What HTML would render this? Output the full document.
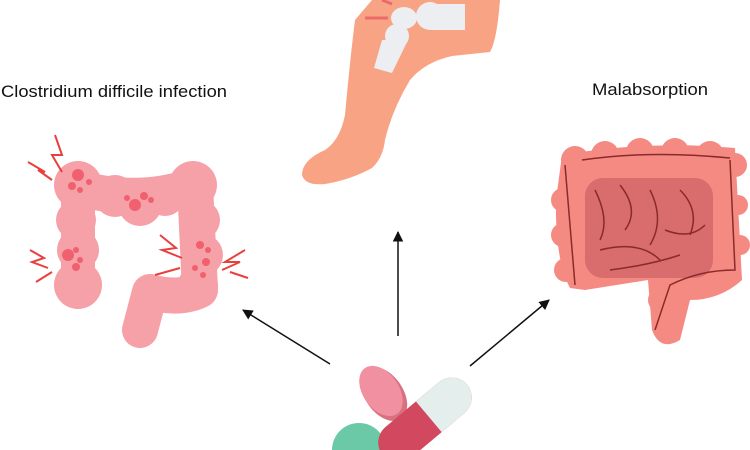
<!DOCTYPE html>
<html><head><meta charset="utf-8"><style>
html,body{margin:0;padding:0;background:#fff;width:750px;height:450px;overflow:hidden}
</style></head><body>
<svg width="750" height="450" viewBox="0 0 750 450" xmlns="http://www.w3.org/2000/svg">
<defs>
<marker id="a" viewBox="0 0 10 10" refX="9" refY="5" markerWidth="7" markerHeight="7" orient="auto"><path d="M0,0 L10,5 L0,10 z" fill="#111"/></marker>
</defs>
<text x="1" y="97" font-family="Liberation Sans, sans-serif" font-size="17" fill="#111" textLength="226" lengthAdjust="spacingAndGlyphs">Clostridium difficile infection</text>
<text x="592" y="95" font-family="Liberation Sans, sans-serif" font-size="17" fill="#111" textLength="116" lengthAdjust="spacingAndGlyphs">Malabsorption</text>

<!-- leg -->
<path d="M372,0 L500,0 Q497,40 490,52 L452,56 Q425,62 410,80 Q392,110 385,140 Q383,158 372,168 Q350,180 325,184 Q305,186 302,175 Q302,160 325,150 Q340,140 345,115 Q350,60 355,20 Z" fill="#f8a384"/>
<path d="M365,18 L388,18" stroke="#ec6a6a" stroke-width="3"/>
<path d="M382,0 L392,4" stroke="#ec6a6a" stroke-width="3"/>
<ellipse cx="404" cy="18" rx="13" ry="11" fill="#eceef2"/>
<circle cx="430" cy="16" r="14" fill="#eceef2"/>
<rect x="430" y="4" width="35" height="26" fill="#eceef2"/>
<circle cx="397" cy="36" r="12" fill="#eceef2"/>
<path d="M382,40 L408,40 L392,73 L374,68 Z" fill="#eceef2"/>

<!-- colon -->
<g stroke="#f6a0a8" stroke-linecap="round" stroke-linejoin="round" fill="none">
<path d="M78,188 Q140,205 195,185 L200,290 Q180,300 150,292 L140,330" stroke-width="36"/>
<path d="M78,188 L78,285" stroke-width="34"/>
</g>
<g fill="#f6a0a8">
<circle cx="78" cy="285" r="24"/><circle cx="78" cy="185" r="24"/><circle cx="193" cy="185" r="24"/>
<circle cx="115" cy="196" r="21"/><circle cx="140" cy="204" r="22"/><circle cx="165" cy="196" r="20"/>
<circle cx="76" cy="220" r="20"/><circle cx="78" cy="250" r="21"/><circle cx="200" cy="220" r="20"/><circle cx="202" cy="255" r="21"/><circle cx="198" cy="285" r="20"/>
</g>
<g fill="#f0606e">
<circle cx="78" cy="175" r="6"/><circle cx="72" cy="186" r="4"/><circle cx="89" cy="182" r="3"/><circle cx="80" cy="190" r="3"/>
<circle cx="135" cy="205" r="6"/><circle cx="144" cy="196" r="4"/><circle cx="127" cy="198" r="3"/><circle cx="151" cy="200" r="3"/>
<circle cx="68" cy="255" r="6"/><circle cx="76" cy="267" r="4"/><circle cx="76" cy="250" r="3"/><circle cx="80" cy="260" r="3"/>
<circle cx="200" cy="245" r="4"/><circle cx="206" cy="262" r="4"/><circle cx="195" cy="268" r="3"/><circle cx="203" cy="275" r="3"/><circle cx="208" cy="250" r="3"/>
</g>
<g stroke="#e8403e" stroke-width="2" fill="none">
<path d="M55,135 L62,155 L52,155 L62,172"/><path d="M28,162 L45,172 L38,170 L52,180"/>
<path d="M30,250 L44,258 L32,262 L48,268"/><path d="M36,282 L52,272"/>
<path d="M160,235 L176,248 L162,250 L182,258"/><path d="M155,275 L180,268"/>
<path d="M245,250 L225,262 L240,262 L222,270"/><path d="M248,278 L230,272"/>
</g>

<!-- intestines -->
<path d="M562,155 Q650,140 735,148 L742,280 Q720,300 690,300 L680,340 Q660,352 652,330 L648,280 L585,290 L570,288 Q555,260 556,200 Z" fill="#f48a82"/>
<g fill="#f48a82">
<circle cx="575" cy="160" r="14"/><circle cx="605" cy="155" r="14"/><circle cx="640" cy="152" r="14"/><circle cx="675" cy="152" r="14"/><circle cx="710" cy="155" r="14"/><circle cx="735" cy="165" r="12"/>
<circle cx="563" cy="200" r="12"/><circle cx="563" cy="235" r="12"/><circle cx="566" cy="270" r="12"/>
<circle cx="738" cy="205" r="10"/><circle cx="740" cy="245" r="10"/><circle cx="660" cy="300" r="12"/>
</g>
<rect x="585" y="178" width="128" height="100" rx="18" fill="#d96c6c"/>
<g stroke="#8a2a2a" stroke-width="1.5" fill="none">
<path d="M565,165 L575,285"/><path d="M582,160 Q650,150 730,158"/><path d="M730,160 L735,270 Q700,270 670,285 L655,330"/>
<path d="M595,190 Q610,220 600,240"/><path d="M620,185 Q640,210 625,230"/><path d="M650,190 Q665,220 650,245"/><path d="M680,190 Q700,210 690,235"/>
<path d="M600,250 Q640,240 660,260"/><path d="M610,270 Q650,265 680,255"/><path d="M665,230 Q690,240 705,225"/>
</g>

<!-- arrows -->
<g stroke="#111" stroke-width="1.5" marker-end="url(#a)">
<line x1="330" y1="364" x2="243" y2="310"/>
<line x1="398" y1="336" x2="398" y2="232"/>
<line x1="470" y1="366" x2="549" y2="300"/>
</g>

<!-- pills -->
<path d="M332,450 A27,27 0 0 1 386,450 Z" fill="#6cc9a7"/>
<ellipse cx="384" cy="394" rx="19" ry="30" transform="rotate(-35 384 394)" fill="#d9707e"/>
<ellipse cx="381" cy="391" rx="18" ry="28" transform="rotate(-35 381 391)" fill="#f090a0"/>
<g transform="translate(425,420) rotate(-40)">
<rect x="-55" y="-20" width="110" height="40" rx="20" fill="#d2485e"/>
<path d="M5,-20 L35,-20 A20,20 0 0 1 35,20 L5,20 Z" fill="#e3eeed"/>
</g>
</svg>
</body></html>
